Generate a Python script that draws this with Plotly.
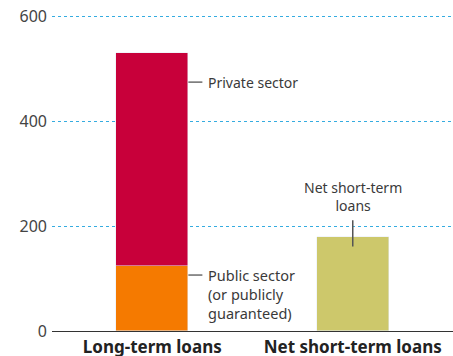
import plotly.graph_objects as go

categories = ["Long-term loans", "Net short-term loans"]
public_sector = [124, None]
private_sector = [406, None]
short_term = [None, 179]
y_ticks = [0, 200, 400, 600]

C_PRIV = "#c8003a"
C_PUB = "#f57a00"
C_SHORT = "#cdc86b"
TXT = "#3a3a3a"
FONT = "Noto Sans"
BW = 0.36

fig = go.Figure()
fig.add_bar(x=categories, y=public_sector, marker_color=C_PUB, width=BW, name="Public sector")
fig.add_bar(x=categories, y=private_sector, marker_color=C_PRIV, width=BW, name="Private sector")
fig.add_bar(x=categories, y=short_term, marker_color=C_SHORT, width=BW, name="Net short-term loans")

total_long = public_sector[0] + private_sector[0]
edge = BW / 2
# leader lines
fig.add_shape(type="line", x0=edge, x1=edge + 0.07, y0=total_long * 0.895, y1=total_long * 0.895,
              xref="x", yref="y", line=dict(color="#222", width=1))
fig.add_shape(type="line", x0=edge, x1=edge + 0.07, y0=public_sector[0] * 0.86, y1=public_sector[0] * 0.86,
              xref="x", yref="y", line=dict(color="#222", width=1))
fig.add_shape(type="line", x0=1, x1=1, y0=short_term[1] * 0.9, y1=short_term[1] * 1.18,
              xref="x", yref="y", line=dict(color="#555", width=1.5))

fig.add_annotation(x=edge + 0.09, y=total_long * 0.895, text="Private sector", showarrow=False,
                   xanchor="left", yanchor="middle", font=dict(family=FONT, size=14, color=TXT))
fig.add_annotation(x=edge + 0.09, y=public_sector[0] * 0.86,
                   text="Public sector<br>(or publicly<br>guaranteed)",
                   showarrow=False, xanchor="left", yanchor="top", yshift=12, align="left",
                   font=dict(family=FONT, size=14.5, color=TXT))
fig.add_annotation(x=1, y=short_term[1] * 1.2, text="Net short-term<br>loans", showarrow=False,
                   xanchor="center", yanchor="bottom", yshift=1, align="center",
                   font=dict(family=FONT, size=14, color=TXT))

fig.update_layout(
    barmode="stack",
    width=453, height=356,
    margin=dict(l=52, r=0, t=13, b=25, autoexpand=False),
    plot_bgcolor="white", paper_bgcolor="white",
    showlegend=False,
    bargap=0,
    font=dict(family=FONT, color=TXT),
)
fig.update_yaxes(range=[0, 606], tickvals=y_ticks, showgrid=True, gridcolor="#35ace0", griddash="dot",
                 gridwidth=1, zeroline=False, showline=False, ticks="", ticklabelstandoff=4,
                 automargin=False, tickfont=dict(family=FONT, size=16, color="#444"))
fig.update_xaxes(range=[-0.5, 1.5], showline=True, linecolor="#333", linewidth=1.2, ticks="",
                 automargin=False, ticklabelstandoff=0,
                 tickfont=dict(family=FONT, size=17, color="#222", weight="bold"))

fig.write_html("out.html", config={"displayModeBar": False},
               post_script="document.body.style.margin='0';document.body.style.overflow='hidden';")
